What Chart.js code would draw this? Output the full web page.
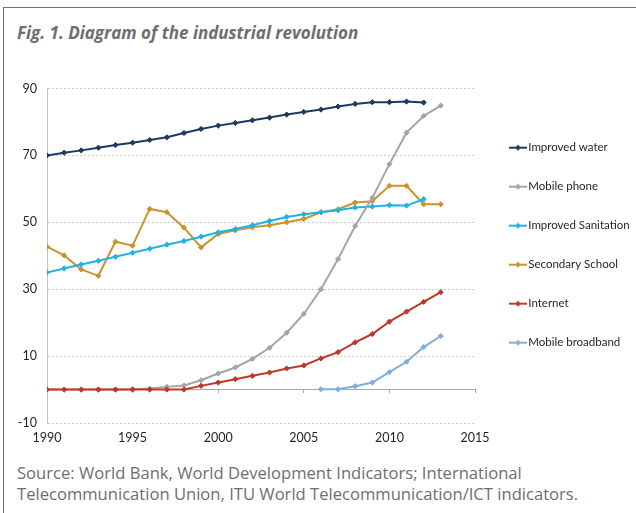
<!DOCTYPE html>
<html>
<head>
<meta charset="utf-8">
<script src="https://cdn.jsdelivr.net/npm/chart.js@4.4.0/dist/chart.umd.min.js"></script>
<style>
  html, body { margin: 0; padding: 0; width: 636px; height: 513px; overflow: hidden; background: #fff; }
  #frame { position: absolute; left: 3px; top: 7px; width: 700px; height: 600px;
           border-top: 1.5px solid #707070; border-left: 1.5px solid #707070; }
  #title { position: absolute; left: 17px; top: 21px; font: italic bold 17px "Open Sans", sans-serif; color: #6d6e71; }
  #source { position: absolute; left: 17px; top: 462px; font: 16.6px/21px "Open Sans", sans-serif; color: #6d6e71; }
  #wrap { position: absolute; left: 0; top: 71px; width: 636px; height: 381px; }
</style>
</head>
<body>
<div id="frame"></div>
<div id="title">Fig. 1. Diagram of the industrial revolution</div>
<div id="wrap"><canvas id="chart"></canvas></div>
<div id="source">Source: World Bank, World Development Indicators; International<br>Telecommunication Union, ITU World Telecommunication/ICT indicators.</div>
<script>
// ---------------------------------------------------------------- DATA

var years = [1990, 1991, 1992, 1993, 1994, 1995, 1996, 1997, 1998, 1999, 2000, 2001,
             2002, 2003, 2004, 2005, 2006, 2007, 2008, 2009, 2010, 2011, 2012, 2013];

var improvedWater   = [70.0, 70.8, 71.5, 72.3, 73.1, 73.8, 74.6, 75.4, 76.7, 77.9, 78.9, 79.7,
                       80.5, 81.3, 82.2, 83.0, 83.7, 84.6, 85.4, 85.9, 85.9, 86.1, 85.8, null];
var mobilePhone     = [0, 0, 0, 0, 0, 0.1, 0.3, 0.8, 1.2, 2.8, 4.8, 6.6,
                       9.2, 12.5, 17.0, 22.6, 30.0, 39.0, 48.9, 57.3, 67.4, 76.8, 81.8, 84.9];
var sanitation      = [35.0, 36.2, 37.4, 38.5, 39.7, 40.9, 42.1, 43.3, 44.4, 45.7, 47.0, 48.0,
                       49.1, 50.4, 51.6, 52.4, 53.0, 53.6, 54.4, 54.7, 55.1, 55.0, 56.9, null];
var secondarySchool = [42.7, 40.1, 35.9, 34.0, 44.2, 43.0, 54.0, 53.0, 48.4, 42.5, 46.5, 47.6,
                       48.5, 49.1, 50.0, 51.0, 53.0, 53.9, 55.9, 56.3, 60.9, 60.9, 55.4, 55.4];
var internet        = [0, 0, 0, 0, 0, 0, 0, 0, 0, 1.1, 2.1, 3.1,
                       4.1, 5.1, 6.3, 7.2, 9.3, 11.2, 14.1, 16.6, 20.3, 23.3, 26.2, 29.1];
var mobileBroadband = [null, null, null, null, null, null, null, null, null, null, null, null,
                       null, null, null, null, 0.1, 0.1, 1.0, 2.1, 5.2, 8.3, 12.7, 16.0];

var xTicks = [1990, 1995, 2000, 2005, 2010, 2015];
var yTicks = [-10, 10, 30, 50, 70, 90];

// ---------------------------------------------------------------- HELPERS

function points(values) {
    return years.map(function (y, i) { return { x: y, y: values[i] }; });
}

// little line + diamond used as legend symbol
function legendMark(color) {
    var c = document.createElement('canvas');
    c.width = 18; c.height = 8;
    var g = c.getContext('2d');
    g.strokeStyle = color; g.lineWidth = 2;
    g.beginPath(); g.moveTo(0, 4); g.lineTo(18, 4); g.stroke();
    g.fillStyle = color;
    g.beginPath(); g.moveTo(9, 1); g.lineTo(12, 4); g.lineTo(9, 7); g.lineTo(6, 4); g.closePath(); g.fill();
    return c;
}

function series(label, values, color, order) {
    return {
        label: label,
        data: points(values),
        borderColor: color,
        backgroundColor: color,
        borderWidth: 2,
        pointStyle: 'rectRot',
        pointRadius: 2.6,
        pointBorderWidth: 1,
        tension: 0,
        order: order || 0
    };
}

var font = 'Lato, sans-serif';
var textColor = '#231f20';

// ---------------------------------------------------------------- CHART

var config = {
    type: 'line',
    data: {
        datasets: [
            series('Improved water', improvedWater, '#1d3a64'),
            series('Mobile phone', mobilePhone, '#a5a5a5'),
            series('Improved Sanitation', sanitation, '#1fb2e8'),
            series('Secondary School', secondarySchool, '#c8942e'),
            series('Internet', internet, '#c0382b', -1),
            series('Mobile broadband', mobileBroadband, '#7cafe0')
        ]
    },
    options: {
        responsive: true,
        maintainAspectRatio: false,
        animation: false,
        layout: { padding: 0 },
        scales: {
            x: {
                type: 'linear',
                min: xTicks[0], max: xTicks[xTicks.length - 1],
                ticks: {
                    stepSize: xTicks[1] - xTicks[0],
                    color: textColor, font: { family: font, size: 12.5 }, padding: 7,
                    callback: function (v) { return String(v); }
                },
                grid: { display: false, drawTicks: false },
                border: { display: false }
            },
            x0: {
                type: 'linear',
                position: { y: 0 },
                min: xTicks[0], max: xTicks[xTicks.length - 1],
                ticks: { display: false, stepSize: xTicks[1] - xTicks[0] },
                grid: { drawOnChartArea: false, drawTicks: true, tickLength: 3, color: '#a8a8a8' },
                border: { display: true, color: '#a8a8a8', width: 1 },
                afterFit: function (s) { s.height = 0; }
            },
            y: {
                min: yTicks[0], max: yTicks[yTicks.length - 1],
                ticks: { stepSize: yTicks[1] - yTicks[0], color: textColor, font: { family: font, size: 12.5 }, padding: 10 },
                grid: { color: '#cccccc', drawTicks: false, lineWidth: 1 },
                border: { display: true, color: '#c4c4c4', dash: [2, 2] },
                afterFit: function (s) { s.width = 47; }
            },
            yr: {
                position: 'right',
                ticks: { display: false },
                grid: { display: false, drawTicks: false },
                border: { display: false },
                afterFit: function (s) { s.width = 11; }
            }
        },
        plugins: {
            tooltip: { enabled: false },
            legend: {
                position: 'right',
                align: 'start',
                maxWidth: 150,
                title: { display: true, text: ' ', font: { size: 12 }, padding: { top: 14.5, bottom: 14.5 } },
                labels: {
                    usePointStyle: true,
                    pointStyleWidth: 9,
                    boxWidth: 9,
                    padding: 27.5,
                    color: textColor,
                    font: { family: font, size: 11.5 },
                    sort: function (a, b) { return a.datasetIndex - b.datasetIndex; },
                    generateLabels: function (chart) {
                        var items = Chart.defaults.plugins.legend.labels.generateLabels(chart);
                        items.forEach(function (it) {
                            it.pointStyle = legendMark(chart.data.datasets[it.datasetIndex].borderColor);
                        });
                        return items;
                    }
                }
            }
        }
    }
};

var ctx = document.getElementById('chart').getContext('2d');
window.myChart = new Chart(ctx, config);
</script>
</body>
</html>
